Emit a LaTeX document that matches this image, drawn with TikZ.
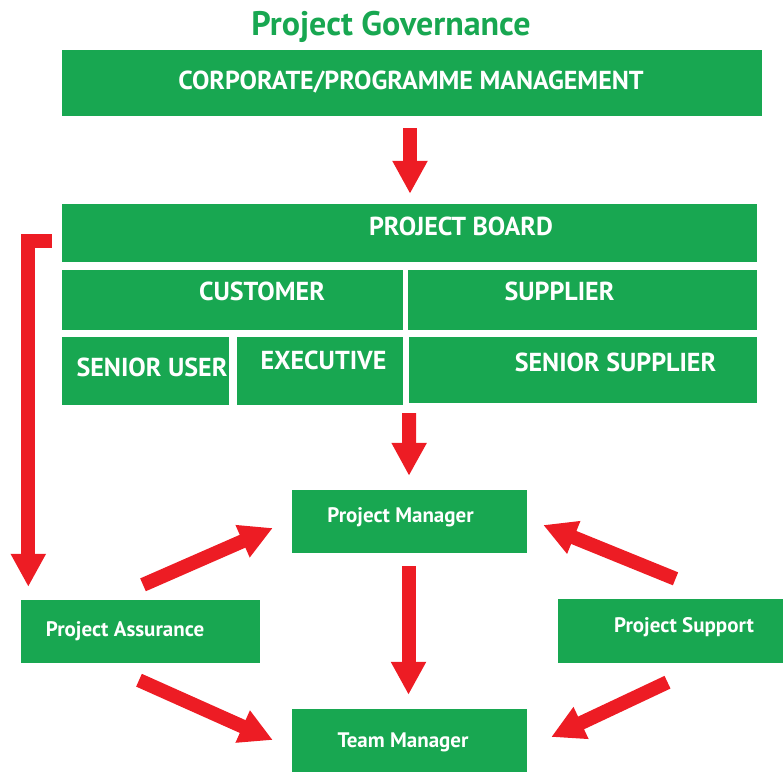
\documentclass[tikz,border=0pt]{standalone}
\usepackage{fontspec}
\setmainfont{PT Sans}
\usepackage{tikz}
\usetikzlibrary{arrows.meta}
\definecolor{govgreen}{RGB}{24,167,81}
\definecolor{govred}{RGB}{237,28,36}

\tikzset{
    panel/.style={fill=govgreen, inner sep=0pt},
    captext/.style={text=white, inner sep=0pt, text height=18.2pt, text depth=0pt, font=\bfseries\fontsize{26}{29}\selectfont},
    roletext/.style={text=white, inner sep=0pt, text height=14.7pt, text depth=0pt, font=\bfseries\fontsize{21}{25}\selectfont},
    fat/.style={govred, line width=14pt, line join=miter, -{Triangle[width=33pt,length=33pt]}},
}

\begin{document}
\begin{tikzpicture}[x=1pt, y=-1pt]
    \useasboundingbox (0,0) rectangle (783,772);

    % Title
    \node[anchor=base, text=govgreen, font=\bfseries\fontsize{34}{38}\selectfont] (title) at (391,35) {Project Governance};

    % Top boxes
    \node[panel, minimum width=700pt, minimum height=66pt, label={[captext, name=corp-t, xshift=-1pt, yshift=2.5pt]center:CORPORATE/PROGRAMME MANAGEMENT}] (corp) at (412,83) {};
    \node[panel, minimum width=695pt, minimum height=58pt, label={[captext, name=board-t, xshift=51.5pt, yshift=7pt]center:PROJECT BOARD}] (board) at (409.5,233) {};

    % Customer and supplier
    \node[panel, minimum width=341pt, minimum height=60pt, label={[captext, name=cust-t, xshift=29.5pt, yshift=8.5pt]center:CUSTOMER}] (cust) at (232.5,300) {};
    \node[panel, minimum width=349pt, minimum height=60pt, label={[captext, name=supp-t, xshift=-23pt, yshift=8.5pt]center:SUPPLIER}] (supp) at (582.5,300) {};

    % Board members
    \node[panel, minimum width=167pt, minimum height=68pt, label={[captext, name=suser-t, xshift=6.5pt, yshift=3.5pt]center:SENIOR USER}] (suser) at (145.5,371) {};
    \node[panel, minimum width=166pt, minimum height=68pt, label={[captext, name=exec-t, xshift=3.5pt, yshift=10.5pt]center:EXECUTIVE}] (exec) at (320,371) {};
    \node[panel, minimum width=348pt, minimum height=66pt, label={[captext, name=ssupp-t, xshift=32.5pt, yshift=8pt]center:SENIOR SUPPLIER}] (ssupp) at (583,370) {};

    % Roles
    \node[panel, minimum width=235pt, minimum height=63pt, label={[roletext, name=pm-t, xshift=-9pt, yshift=6.5pt]center:Project Manager}] (pm) at (409.5,521.5) {};
    \node[panel, minimum width=239pt, minimum height=63pt, label={[roletext, name=pa-t, xshift=-15.5pt, yshift=2pt]center:Project Assurance}] (pa) at (140.5,631.5) {};
    \node[panel, minimum width=225pt, minimum height=64pt, label={[roletext, name=ps-t, xshift=13.5pt, yshift=6pt]center:Project Support}] (ps) at (670.5,631) {};
    \node[panel, minimum width=235pt, minimum height=63pt, label={[roletext, name=tm-t, xshift=-6.5pt, yshift=0.5pt]center:Team Manager}] (tm) at (409.5,740.5) {};

    % Red arrows down the middle
    \draw[fat] ([shift={(-2,12)}]corp.south) -- ([shift={(0.5,-10)}]board.north);
    \draw[fat] ([shift={(6,8)}]exec.south east) -- ([shift={(-0.5,-14)}]pm.north);
    \draw[fat] ([shift={(-1,13)}]pm.south) -- ([shift={(-1,-14)}]tm.north);

    % Bracket from the board down to assurance
    \draw[fat] ([shift={(-10,8)}]board.west) -| ([shift={(7.5,-13)}]pa.north west);

    % Diagonal arrows
    \draw[fat] ([shift={(2.5,-15)}]pa.north) -- ([shift={(-19,6.5)}]pm.west);
    \draw[fat] ([shift={(-1.5,17)}]pa.south) -- ([shift={(-19,-0.5)}]tm.west);
    \draw[fat] ([shift={(5,-20)}]ps.north) -- ([shift={(16,3.5)}]pm.east);
    \draw[fat] ([shift={(-3,19)}]ps.south) -- ([shift={(24,-3.5)}]tm.east);
\end{tikzpicture}
\end{document}
